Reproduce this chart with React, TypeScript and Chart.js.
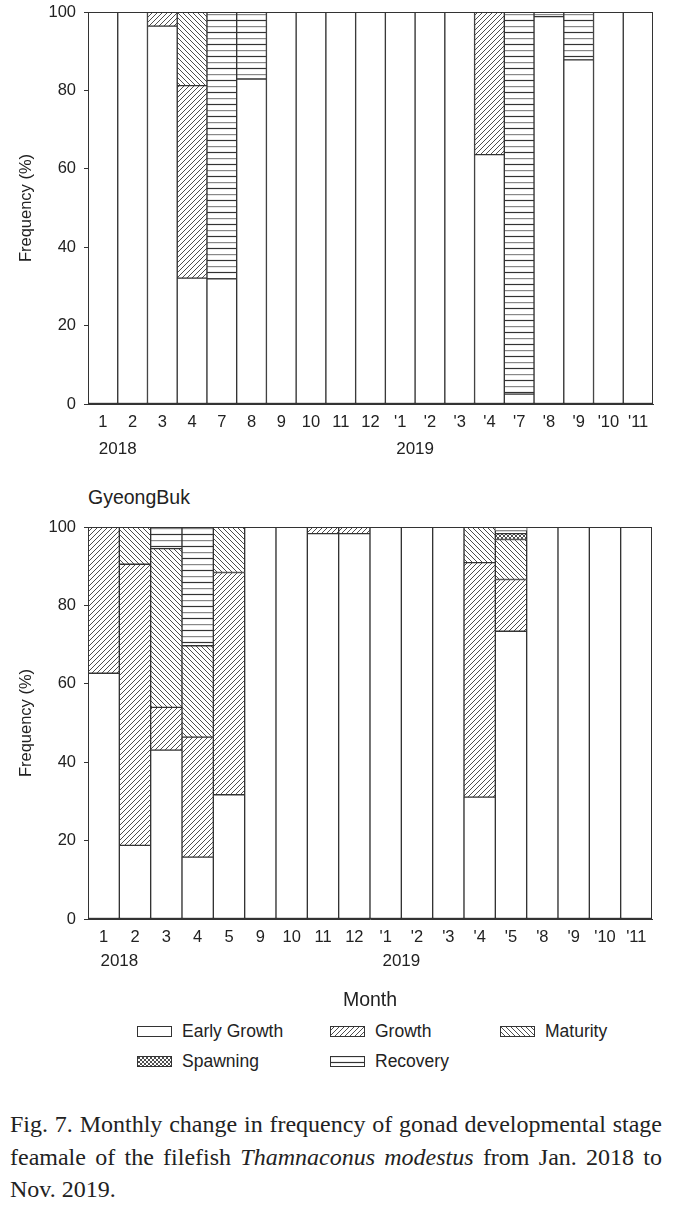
import React, { useEffect, useRef } from 'react';
import { Chart, registerables } from 'chart.js';

Chart.register(...registerables);

// ---------- DATA ----------
const stageNames = ['Early Growth', 'Growth', 'Maturity', 'Spawning', 'Recovery'];
const stageKinds = ['early', 'growth', 'maturity', 'spawning', 'recovery'];

const topMonths = ['1', '2', '3', '4', '7', '8', '9', '10', '11', '12', "'1", "'2", "'3", "'4", "'7", "'8", "'9", "'10", "'11"];
const topEarly = [100, 100, 96.4, 32.1, 31.9, 82.9, 100, 100, 100, 100, 100, 100, 100, 63.6, 2.5, 98.8, 87.8, 100, 100];
const topGrowth = [null, null, 3.6, 49.1, null, null, null, null, null, null, null, null, null, 36.4, null, null, null, null, null];
const topMaturity = [null, null, null, 18.8, null, null, null, null, null, null, null, null, null, null, null, null, null, null, null];
const topSpawning = [null, null, null, null, null, null, null, null, null, null, null, null, null, null, null, null, null, null, null];
const topRecovery = [null, null, null, null, 68.1, 17.1, null, null, null, null, null, null, null, null, 97.5, 1.2, 12.2, null, null];
const topYears = [{ label: '2018', index: 0 }, { label: '2019', index: 10 }];

const botMonths = ['1', '2', '3', '4', '5', '9', '10', '11', '12', "'1", "'2", "'3", "'4", "'5", "'8", "'9", "'10", "'11"];
const botEarly = [62.7, 18.8, 43.1, 15.8, 31.7, 100, 100, 98.3, 98.3, 100, 100, 100, 31.1, 73.4, 100, 100, 100, 100];
const botGrowth = [37.3, 71.7, 10.9, 30.6, 56.7, null, null, 1.7, 1.7, null, null, null, 59.8, 13.2, null, null, null, null];
const botMaturity = [null, 9.5, 40.5, 23.3, 11.6, null, null, null, null, null, null, null, 9.1, 10.2, null, null, null, null];
const botSpawning = [null, null, null, null, null, null, null, null, null, null, null, null, null, 1.5, null, null, null, null];
const botRecovery = [null, null, 5.5, 30.3, null, null, null, null, null, null, null, null, null, 0.8, null, null, null, null];
const botYears = [{ label: '2018', index: 0 }, { label: '2019', index: 9 }];

const yTicks = [0, 20, 40, 60, 80, 100];
const yTitle = 'Frequency (%)';
const xTitle = 'Month';
const regionLabel = 'GyeongBuk';
const captionLines = [
  ['Fig. 7. Monthly change in frequency of gonad developmental stage'],
  ['feamale of the filefish ', 'Thamnaconus modestus', ' from Jan. 2018 to'],
  ['Nov. 2019.'],
];

// ---------- STYLE ----------
const FONT = "'Liberation Sans', Arial, sans-serif";
const INK = '#222';
const LINE = '#333';

function makePattern(kind: string): CanvasPattern | string {
  if (kind === 'early') return '#ffffff';
  const c = document.createElement('canvas');
  let w = 5, h = 5;
  if (kind === 'recovery') { w = 4; h = 12; }
  if (kind === 'spawning') { w = 4; h = 4; }
  c.width = w; c.height = h;
  const g = c.getContext('2d')!;
  g.fillStyle = '#fff';
  g.fillRect(0, 0, w, h);
  g.lineWidth = 0.9;
  g.strokeStyle = '#3a3a3a';
  const fwd = (s: number) => {
    g.beginPath();
    g.moveTo(0, s); g.lineTo(s, 0);
    g.moveTo(-1, 1); g.lineTo(1, -1);
    g.moveTo(s - 1, s + 1); g.lineTo(s + 1, s - 1);
    g.stroke();
  };
  const back = (s: number) => {
    g.beginPath();
    g.moveTo(0, 0); g.lineTo(s, s);
    g.moveTo(-1, s - 1); g.lineTo(1, s + 1);
    g.moveTo(s - 1, -1); g.lineTo(s + 1, 1);
    g.stroke();
  };
  if (kind === 'growth') fwd(w);
  if (kind === 'maturity') back(w);
  if (kind === 'spawning') { fwd(w); back(w); }
  if (kind === 'recovery') {
    g.lineWidth = 1.2;
    g.strokeStyle = '#888';
    g.beginPath(); g.moveTo(0, 0.6); g.lineTo(w, 0.6); g.stroke();
    g.strokeStyle = '#333';
    g.beginPath(); g.moveTo(0, 6.5); g.lineTo(w, 6.5); g.stroke();
  }
  return g.createPattern(c, 'repeat') as CanvasPattern;
}

const framePlugin = {
  id: 'frameAndYears',
  afterDatasetsDraw(chart: any, _args: any, opts: any) {
    const { ctx, chartArea, scales } = chart;
    ctx.save();
    ctx.strokeStyle = LINE;
    ctx.lineWidth = 1;
    ctx.strokeRect(chartArea.left + 0.5, chartArea.top + 0.5, chartArea.width - 1, chartArea.height - 1);
    ctx.font = `17px ${FONT}`;
    ctx.fillStyle = INK;
    ctx.textAlign = 'center';
    ctx.textBaseline = 'middle';
    for (const y of opts.years || []) {
      const x = (scales.x.getPixelForValue(y.index) + scales.x.getPixelForValue(y.index + 1)) / 2;
      ctx.fillText(y.label, x, chartArea.bottom + opts.offset);
    }
    ctx.restore();
  },
};

type ChartProps = {
  months: string[];
  series: (number | null)[][];
  years: { label: string; index: number }[];
  width: number;
  height: number;
  padTop: number;
  padRight: number;
  xHeight: number;
  yearOffset: number;
  showXTitle: boolean;
};

function StageChart(p: ChartProps) {
  const ref = useRef<HTMLCanvasElement>(null);
  useEffect(() => {
    if (!ref.current) return;
    const datasets = stageNames.map((name, i) => ({
      label: name,
      data: p.series[i],
      backgroundColor: makePattern(stageKinds[i]),
      borderColor: LINE,
      borderWidth: 1,
      borderSkipped: false,
      categoryPercentage: 1,
      barPercentage: 1,
    }));
    const chart = new Chart(ref.current, {
      type: 'bar',
      data: { labels: p.months, datasets: datasets as any },
      options: {
        responsive: false,
        animation: false,
        layout: { padding: { top: p.padTop, right: p.padRight, left: 0, bottom: 0 } },
        plugins: {
          legend: { display: false },
          tooltip: { enabled: false },
          frameAndYears: { years: p.years, offset: p.yearOffset },
        } as any,
        scales: {
          x: {
            stacked: true,
            grid: { display: false },
            border: { color: LINE },
            ticks: { color: INK, font: { family: FONT, size: 16.5 }, padding: 1, maxRotation: 0, autoSkip: false },
            title: { display: p.showXTitle, text: xTitle, color: INK, font: { family: FONT, size: 19.5 }, padding: { top: 0, bottom: 0 } },
            afterFit: (s: any) => { s.height = p.xHeight; },
          },
          y: {
            stacked: true,
            min: 0,
            max: 100,
            afterBuildTicks: (s: any) => { s.ticks = yTicks.map((v) => ({ value: v })); },
            grid: { drawOnChartArea: false, tickLength: 4, color: LINE },
            border: { color: LINE },
            ticks: { color: INK, font: { family: FONT, size: 16.5 }, padding: 8 },
            title: { display: true, text: yTitle, color: INK, font: { family: FONT, size: 16.5 }, padding: { top: 17, bottom: 0 } },
            afterFit: (s: any) => { s.width = 88; },
          },
        },
      } as any,
      plugins: [framePlugin],
    });
    return () => chart.destroy();
  }, []);
  return <canvas ref={ref} width={p.width} height={p.height} style={{ display: 'block', width: p.width, height: p.height }} />;
}

function Swatch({ kind }: { kind: string }) {
  const ref = useRef<HTMLCanvasElement>(null);
  useEffect(() => {
    const c = ref.current;
    if (!c) return;
    const g = c.getContext('2d')!;
    g.fillStyle = makePattern(kind) as any;
    g.fillRect(0, 0, c.width, c.height);
    g.strokeStyle = LINE;
    g.lineWidth = 1;
    g.strokeRect(0.5, 0.5, c.width - 1, c.height - 1);
  }, []);
  return <canvas ref={ref} width={35} height={11} style={{ display: 'block' }} />;
}

const legendCols = [137, 330, 500];
const legendRows = [1031, 1061];

export default function App() {
  return (
    <div style={{ position: 'absolute', left: 0, top: 0, width: 675, height: 1207, background: '#fff', overflow: 'hidden', fontFamily: FONT, color: INK }}>
      <div style={{ position: 'absolute', left: 0, top: -10 }}>
        <StageChart
          months={topMonths}
          series={[topEarly, topGrowth, topMaturity, topSpawning, topRecovery]}
          years={topYears}
          width={675}
          height={480}
          padTop={22}
          padRight={22}
          xHeight={66}
          yearOffset={45}
          showXTitle={false}
        />
      </div>
      <div style={{ position: 'absolute', left: 88, top: 485, fontSize: 19.5, lineHeight: '24px' }}>{regionLabel}</div>
      <div style={{ position: 'absolute', left: 0, top: 480 }}>
        <StageChart
          months={botMonths}
          series={[botEarly, botGrowth, botMaturity, botSpawning, botRecovery]}
          years={botYears}
          width={675}
          height={532}
          padTop={47}
          padRight={23}
          xHeight={93}
          yearOffset={42}
          showXTitle={true}
        />
      </div>
      {stageNames.map((name, i) => (
        <div
          key={name}
          style={{
            position: 'absolute',
            left: legendCols[i % 3],
            top: legendRows[Math.floor(i / 3)] - 11,
            height: 22,
            display: 'flex',
            alignItems: 'center',
            gap: 10,
            fontSize: 17.5,
            whiteSpace: 'nowrap',
          }}
        >
          <Swatch kind={stageKinds[i]} />
          <span>{name}</span>
        </div>
      ))}
      <div
        style={{
          position: 'absolute',
          left: 10,
          top: 1108,
          width: 652,
          fontFamily: "'Liberation Serif', 'Times New Roman', serif",
          fontSize: 24,
          lineHeight: '32.5px',
          color: '#222',
        }}
      >
        {captionLines.map((parts, li) => (
          <div
            key={li}
            style={{
              whiteSpace: 'nowrap',
              textAlign: li < captionLines.length - 1 ? 'justify' : 'left',
              textAlignLast: li < captionLines.length - 1 ? 'justify' : 'left',
            } as any}
          >
            {parts.map((t, pi) => (pi === 1 ? <i key={pi}>{t}</i> : <span key={pi}>{t}</span>))}
          </div>
        ))}
      </div>
    </div>
  );
}
